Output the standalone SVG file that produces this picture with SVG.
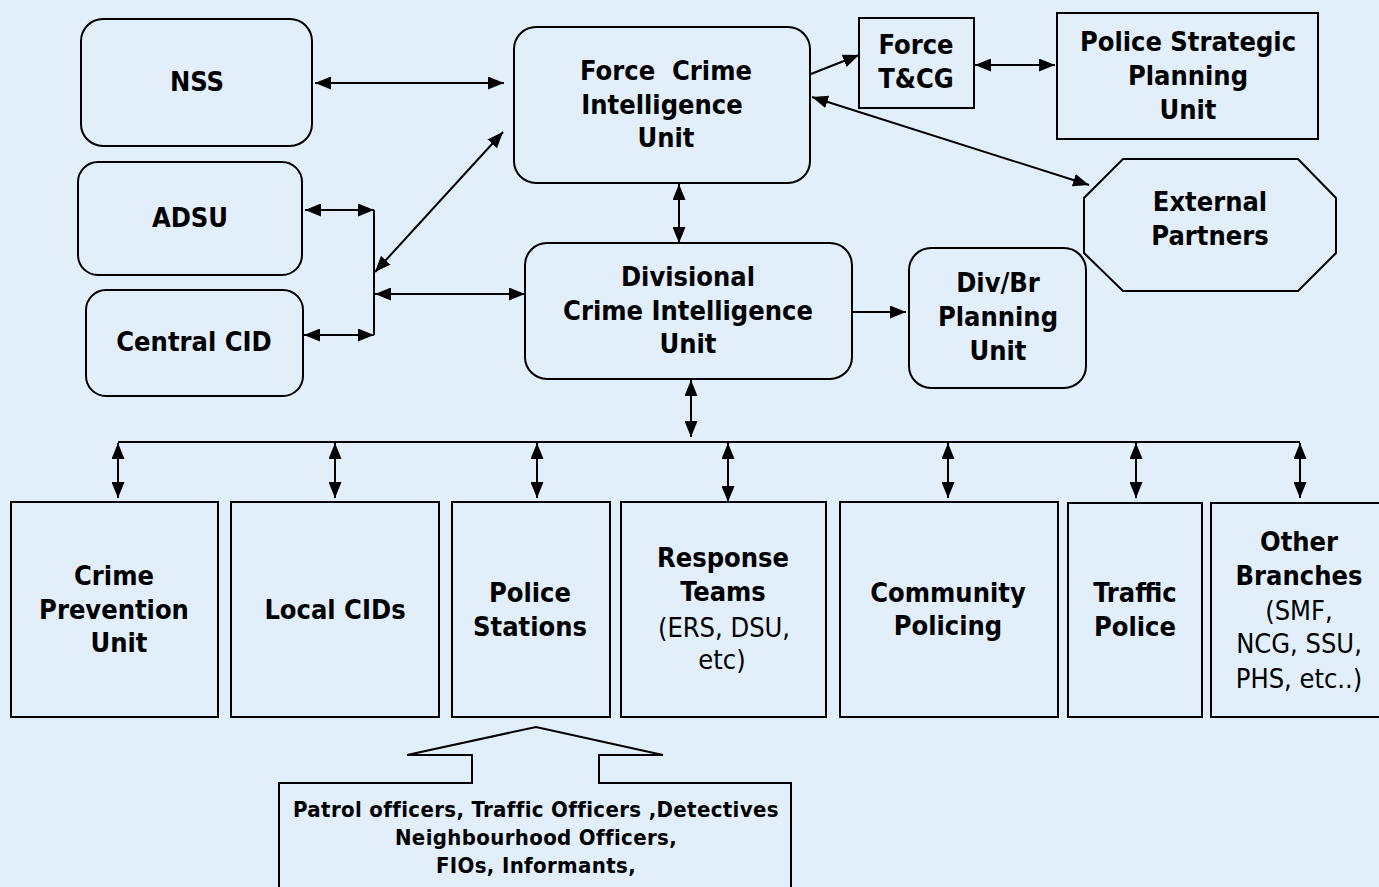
<svg xmlns="http://www.w3.org/2000/svg" width="1379" height="887" viewBox="0 0 1379 887">
<style>
.bx{fill:#E2EFFB;stroke:#000;stroke-width:2}
.t{font-family:"DejaVu Sans Condensed","DejaVu Sans",sans-serif;font-stretch:condensed;font-weight:bold;font-size:27px;text-anchor:middle;fill:#000}
.n{font-weight:normal}
.s{font-size:22px;letter-spacing:0.35px}
.c{fill:none;stroke:#000;stroke-width:2}
.a{marker-end:url(#ah)}
.d{marker-start:url(#ah);marker-end:url(#ah)}
</style>
<defs>
<marker id="ah" viewBox="0 0 16 13" refX="16" refY="6.5" markerWidth="16" markerHeight="13" orient="auto-start-reverse" markerUnits="userSpaceOnUse"><path d="M0,0 L16,6.5 L0,13 z" fill="#000"/></marker>
</defs>
<rect width="1379" height="887" fill="#E2EFFB"/>
<g id="connectors">
<line class="c d" x1="315" y1="83" x2="504" y2="83"/>
<line class="c d" x1="305" y1="210" x2="374" y2="210"/>
<line class="c d" x1="304" y1="335" x2="374" y2="335"/>
<line class="c" x1="374" y1="210" x2="374" y2="335"/>
<line class="c d" x1="375" y1="272" x2="503" y2="132"/>
<line class="c d" x1="375" y1="294" x2="525" y2="294"/>
<line class="c a" x1="811" y1="74" x2="859" y2="55"/>
<line class="c d" x1="975" y1="65" x2="1055" y2="65"/>
<line class="c d" x1="812" y1="97" x2="1089" y2="185"/>
<line class="c d" x1="679" y1="184" x2="679" y2="243"/>
<line class="c a" x1="852" y1="312" x2="906" y2="312"/>
<line class="c d" x1="691" y1="380" x2="691" y2="437"/>
<line class="c" x1="118" y1="442" x2="1300" y2="442"/>
<line class="c d" x1="118" y1="443" x2="118" y2="498"/>
<line class="c d" x1="335" y1="443" x2="335" y2="498"/>
<line class="c d" x1="537" y1="443" x2="537" y2="498"/>
<line class="c d" x1="728" y1="443" x2="728" y2="502"/>
<line class="c d" x1="948" y1="443" x2="948" y2="498"/>
<line class="c d" x1="1136" y1="443" x2="1136" y2="498"/>
<line class="c d" x1="1300" y1="443" x2="1300" y2="498"/>
</g>
<g id="nss"><rect class="bx" x="81" y="19" width="231" height="127" rx="22"/><text class="t" x="197" y="91">NSS</text></g>
<g id="adsu"><rect class="bx" x="78" y="162" width="224" height="113" rx="20"/><text class="t" x="190" y="227">ADSU</text></g>
<g id="central-cid"><rect class="bx" x="86" y="290" width="217" height="106" rx="20"/><text class="t" x="194" y="351">Central CID</text></g>
<g id="force-ciu"><rect class="bx" x="514" y="27" width="296" height="156" rx="22"/><text class="t" x="666" y="80" xml:space="preserve" style="white-space:pre">Force  Crime</text><text class="t" x="662" y="114">Intelligence</text><text class="t" x="666" y="147">Unit</text></g>
<g id="force-tcg"><rect class="bx" x="859" y="18" width="115" height="90"/><text class="t" x="916" y="54">Force</text><text class="t" x="916" y="88">T&amp;CG</text></g>
<g id="pspu"><rect class="bx" x="1057" y="13" width="261" height="126"/><text class="t" x="1188" y="51">Police Strategic</text><text class="t" x="1188" y="85">Planning</text><text class="t" x="1188" y="119">Unit</text></g>
<g id="external-partners"><polygon class="bx" points="1123,159 1298,159 1336,198 1336,253 1298,291 1123,291 1084,253 1084,198"/><text class="t" x="1210" y="211">External</text><text class="t" x="1210" y="245">Partners</text></g>
<g id="divisional-ciu"><rect class="bx" x="525" y="243" width="327" height="136" rx="22"/><text class="t" x="688" y="286">Divisional</text><text class="t" x="688" y="320">Crime Intelligence</text><text class="t" x="688" y="353">Unit</text></g>
<g id="divbr"><rect class="bx" x="909" y="248" width="177" height="140" rx="22"/><text class="t" x="998" y="292">Div/Br</text><text class="t" x="998" y="326">Planning</text><text class="t" x="998" y="360">Unit</text></g>
<g id="crime-prevention"><rect class="bx" x="11" y="502" width="207" height="215"/><text class="t" x="114" y="585">Crime</text><text class="t" x="114" y="619">Prevention</text><text class="t" x="119" y="652">Unit</text></g>
<g id="local-cids"><rect class="bx" x="231" y="502" width="208" height="215"/><text class="t" x="335" y="619">Local CIDs</text></g>
<g id="police-stations"><rect class="bx" x="452" y="502" width="158" height="215"/><text class="t" x="530" y="602">Police</text><text class="t" x="530" y="636">Stations</text></g>
<g id="response-teams"><rect class="bx" x="621" y="502" width="205" height="215"/><text class="t" x="723" y="567">Response</text><text class="t" x="723" y="601">Teams</text><text class="t n" x="724" y="637">(ERS, DSU,</text><text class="t n" x="722" y="669">etc)</text></g>
<g id="community-policing"><rect class="bx" x="840" y="502" width="218" height="215"/><text class="t" x="948" y="602">Community</text><text class="t" x="948" y="635">Policing</text></g>
<g id="traffic-police"><rect class="bx" x="1068" y="503" width="134" height="214"/><text class="t" x="1135" y="602">Traffic</text><text class="t" x="1135" y="636">Police</text></g>
<g id="other-branches"><rect class="bx" x="1211" y="503" width="172" height="214"/><text class="t" x="1299" y="551">Other</text><text class="t" x="1299" y="585">Branches</text><text class="t n" x="1299" y="620">(SMF,</text><text class="t n" x="1299" y="653">NCG, SSU,</text><text class="t n" x="1299" y="688">PHS, etc..)</text></g>
<g id="personnel-callout"><path class="bx" d="M279,890 L279,783 L472,783 L472,755 L407,755 L536,727 L663,755 L599,755 L599,783 L791,783 L791,890"/><text class="t s" x="536" y="817">Patrol officers, Traffic Officers ,Detectives</text><text class="t s" x="536" y="845">Neighbourhood Officers,</text><text class="t s" x="536" y="873">FIOs, Informants,</text></g>
</svg>
